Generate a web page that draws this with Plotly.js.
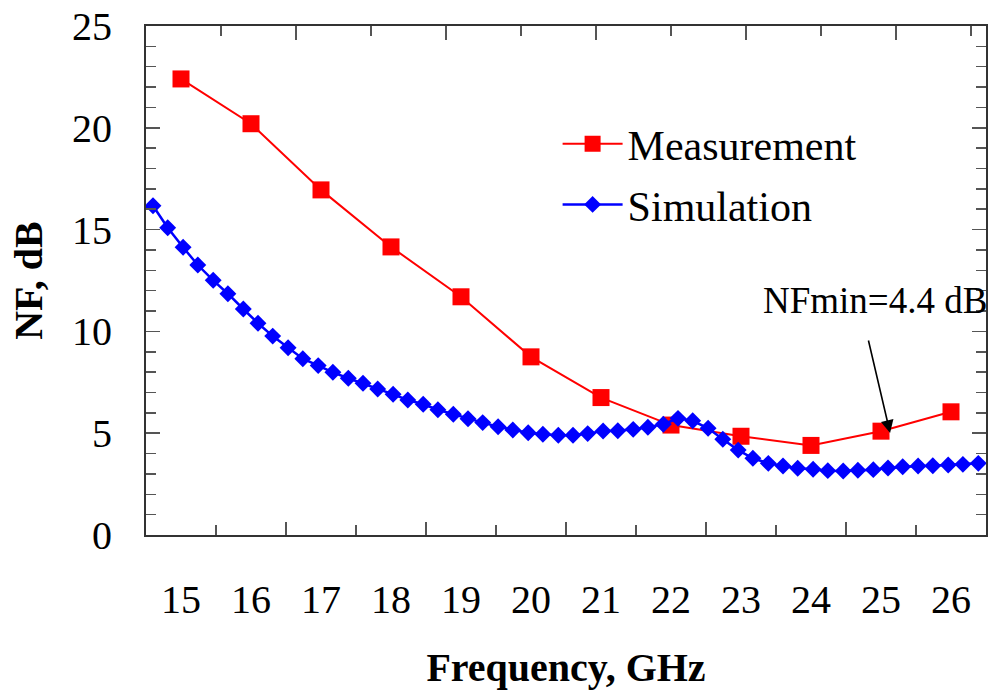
<!DOCTYPE html>
<html><head><meta charset="utf-8">
<script src="https://cdn.plot.ly/plotly-3.0.1.min.js"></script>
<style>html,body{margin:0;padding:0;background:#fff}#chart{width:996px;height:694px}</style>
</head><body><div id="chart"></div>
<script>
// Measurement (red squares)
const measFreq = [15, 16, 17, 18, 19, 20, 21, 22, 23, 24, 25, 26];
const measNF = [22.4, 20.2, 16.95, 14.15, 11.7, 8.75, 6.75, 5.4, 4.85, 4.4, 5.1, 6.05];

// Simulation (blue diamonds)
const simFreq = [14.60, 14.81, 15.03, 15.24, 15.46, 15.67, 15.89, 16.10, 16.31, 16.53,
  16.74, 16.96, 17.17, 17.39, 17.60, 17.81, 18.03, 18.24, 18.46, 18.67,
  18.89, 19.10, 19.31, 19.53, 19.74, 19.96, 20.17, 20.39, 20.60, 20.81,
  21.03, 21.24, 21.46, 21.67, 21.89, 22.10, 22.31, 22.53, 22.74, 22.96,
  23.17, 23.39, 23.60, 23.81, 24.03, 24.24, 24.46, 24.67, 24.89, 25.10,
  25.31, 25.53, 25.74, 25.96, 26.17, 26.39];
const simNF = [16.17, 15.09, 14.13, 13.26, 12.51, 11.85, 11.10, 10.40, 9.77, 9.20,
  8.66, 8.32, 7.99, 7.70, 7.45, 7.17, 6.91, 6.63, 6.42, 6.15,
  5.93, 5.71, 5.52, 5.32, 5.16, 5.02, 4.95, 4.90, 4.90, 4.98,
  5.11, 5.12, 5.19, 5.29, 5.44, 5.73, 5.61, 5.24, 4.70, 4.17,
  3.77, 3.52, 3.39, 3.28, 3.23, 3.16, 3.14, 3.18, 3.21, 3.29,
  3.35, 3.39, 3.40, 3.44, 3.47, 3.52];

// Axis labels / ticks
const xLabelVals = [15, 16, 17, 18, 19, 20, 21, 22, 23, 24, 25, 26];
const xLabelText = ['15', '16', '17', '18', '19', '20', '21', '22', '23', '24', '25', '26'];
const xBottomMajor = [16.5, 18.5, 20.5, 22.5, 24.5];
const xBottomMinor = [15.5, 17.5, 19.5, 21.5, 23.5, 25.5];
const xTopMajor = [2, 4, 6, 8, 10];
const xTopMinor = [1, 3, 5, 7, 9, 11];
const yTickVals = [0, 5, 10, 15, 20, 25];
const yTickText = ['0', '5', '10', '15', '20', '25'];

const FONT = 'Liberation Serif, Times New Roman, serif';
const AXC = '#333333';
const TKC = '#555555';

const traces = [
  {
    x: measFreq, y: measNF, name: 'Measurement', type: 'scatter', mode: 'lines+markers',
    legendgroup: 'm',
    line: {color: '#ff0000', width: 2},
    marker: {symbol: 'square', size: 17, color: '#ff0000'}
  },
  {
    x: simFreq, y: simNF, name: 'Simulation', type: 'scatter', mode: 'lines+markers',
    legendgroup: 's',
    line: {color: '#0000ff', width: 2.5},
    marker: {symbol: 'diamond', size: 13, color: '#0000ff'}
  },
  // empty helper traces so the tick-only overlay axes are rendered
  {x: [], y: [], xaxis: 'x2', yaxis: 'y', type: 'scatter', mode: 'markers', showlegend: false, hoverinfo: 'skip'},
  {x: [], y: [], xaxis: 'x3', yaxis: 'y', type: 'scatter', mode: 'markers', showlegend: false, hoverinfo: 'skip'}
];

const layout = {
  width: 996, height: 694,
  paper_bgcolor: '#ffffff', plot_bgcolor: '#ffffff',
  margin: {l: 146, r: 10, t: 26, b: 159, autoexpand: false},
  font: {family: FONT, color: '#000000', size: 40},
  showlegend: true,
  legend: {
    x: 0.49, y: 0.835, xanchor: 'left', yanchor: 'top',
    bgcolor: 'rgba(0,0,0,0)', borderwidth: 0,
    font: {family: FONT, size: 42, color: '#000'},
    itemwidth: 60, tracegroupgap: 3, traceorder: 'grouped'
  },
  xaxis: {
    range: [14.5, 26.5], type: 'linear',
    tickmode: 'array', tickvals: xLabelVals, ticktext: xLabelText,
    ticks: '', showgrid: false, zeroline: false,
    showline: true, linecolor: AXC, linewidth: 2, mirror: false,
    tickfont: {family: FONT, size: 40, color: '#000'},
    ticklabelstandoff: 28,
    title: {text: 'Frequency, GHz', font: {family: FONT, size: 40, weight: 'bold', color: '#000'}, standoff: 32}
  },
  xaxis2: {
    overlaying: 'x', anchor: 'y', side: 'bottom', range: [14.5, 26.5],
    tickmode: 'array', tickvals: xBottomMajor, ticks: 'inside', ticklen: 13, tickwidth: 1.5, tickcolor: TKC,
    minor: {tickmode: 'array', tickvals: xBottomMinor, ticks: 'inside', ticklen: 10, tickwidth: 1.5, tickcolor: TKC, showgrid: false},
    showticklabels: false, showgrid: false, zeroline: false, showline: false
  },
  xaxis3: {
    overlaying: 'x', anchor: 'y', side: 'top', range: [0, 11.2],
    tickmode: 'array', tickvals: xTopMajor, ticks: 'inside', ticklen: 14, tickwidth: 1.5, tickcolor: TKC,
    minor: {tickmode: 'array', tickvals: xTopMinor, ticks: 'inside', ticklen: 10, tickwidth: 1.5, tickcolor: TKC, showgrid: false},
    showticklabels: false, showgrid: false, zeroline: false,
    showline: true, linecolor: AXC, linewidth: 2
  },
  yaxis: {
    range: [0, 25], type: 'linear',
    tickmode: 'array', tickvals: yTickVals, ticktext: yTickText,
    ticks: 'inside', ticklen: 14, tickwidth: 1.5, tickcolor: TKC,
    minor: {dtick: 1, ticks: 'inside', ticklen: 10, tickwidth: 1.5, tickcolor: TKC, showgrid: false},
    showgrid: false, zeroline: false,
    showline: true, linecolor: AXC, linewidth: 2, mirror: 'ticks',
    tickfont: {family: FONT, size: 40, color: '#000'},
    ticklabelstandoff: 24,
    title: {text: 'NF, dB', font: {family: FONT, size: 40, weight: 'bold', color: '#000'}, standoff: 17}
  },
  annotations: [
    {
      x: 24.91, y: 11.54, xref: 'x', yref: 'y', text: 'NFmin=4.4 dB', showarrow: false,
      xanchor: 'center', yanchor: 'middle',
      font: {family: FONT, size: 37, color: '#000'}
    },
    {
      x: 25.13, y: 5.01, xref: 'x', yref: 'y', text: '', showarrow: true,
      ax: -22, ay: -94, arrowhead: 2, arrowsize: 1.6, arrowwidth: 1.6, arrowcolor: '#000'
    }
  ]
};

Plotly.newPlot('chart', traces, layout, {displayModeBar: false, staticPlot: true});
</script>
</body></html>
